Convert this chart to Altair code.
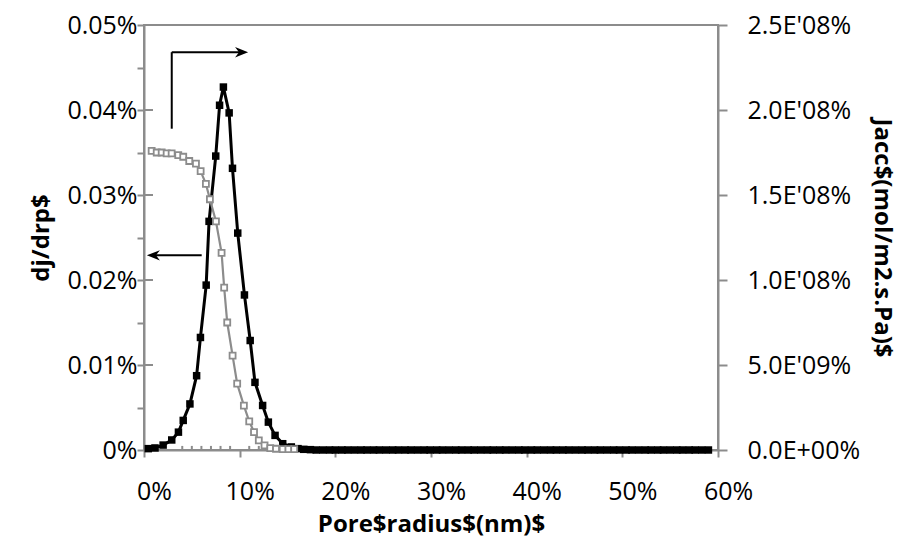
import json
import altair as alt
import pandas as pd

# ---- data ----
black_x = [0.0045, 0.0115, 0.020, 0.029, 0.036, 0.041, 0.048, 0.055, 0.059, 0.065,
           0.068, 0.075, 0.079, 0.083, 0.089, 0.0925, 0.098, 0.105, 0.111, 0.116,
           0.124, 0.130, 0.137, 0.145, 0.154, 0.161, 0.167, 0.174, 0.180, 0.187,
           0.194, 0.200, 0.207, 0.213, 0.220, 0.227, 0.233, 0.240, 0.246, 0.253,
           0.260, 0.266, 0.273, 0.279, 0.286, 0.293, 0.299, 0.306, 0.312, 0.319,
           0.326, 0.332, 0.339, 0.345, 0.352, 0.359, 0.365, 0.372, 0.378, 0.385,
           0.392, 0.398, 0.405, 0.411, 0.418, 0.425, 0.431, 0.438, 0.444, 0.451,
           0.458, 0.464, 0.471, 0.477, 0.484, 0.491, 0.497, 0.504, 0.510, 0.517,
           0.524, 0.530, 0.537, 0.543, 0.550, 0.557, 0.563, 0.570, 0.576, 0.583,
           0.590]
# Jacc in units of 1e-8
black_j = [0.008, 0.012, 0.029, 0.059, 0.105, 0.174, 0.271, 0.437, 0.662, 0.970,
           1.345, 1.729, 2.028, 2.135, 1.983, 1.657, 1.276, 0.912, 0.644, 0.398,
           0.262, 0.164, 0.086, 0.037, 0.018, 0.008, 0.004, 0.002, 0.0, 0.0,
           0.0, 0.0, 0.0, 0.0, 0.0, 0.0, 0.0, 0.0, 0.0, 0.0,
           0.0, 0.0, 0.0, 0.0, 0.0, 0.0, 0.0, 0.0, 0.0, 0.0,
           0.0, 0.0, 0.0, 0.0, 0.0, 0.0, 0.0, 0.0, 0.0, 0.0,
           0.0, 0.0, 0.0, 0.0, 0.0, 0.0, 0.0, 0.0, 0.0, 0.0,
           0.0, 0.0, 0.0, 0.0, 0.0, 0.0, 0.0, 0.0, 0.0, 0.0,
           0.0, 0.0, 0.0, 0.0, 0.0, 0.0, 0.0, 0.0, 0.0, 0.0,
           0.0]

grey_x = [0.008, 0.0133, 0.0185, 0.0237, 0.0289, 0.0358, 0.041, 0.0473, 0.0543, 0.0592,
          0.0647, 0.0689, 0.0752, 0.0811, 0.0838, 0.0870, 0.0926, 0.0974, 0.1044, 0.110,
          0.115, 0.120, 0.126, 0.132, 0.138, 0.145, 0.151, 0.157]
grey_d = [0.000352, 0.000350, 0.000350, 0.000349, 0.000349, 0.000347, 0.000345, 0.000340,
          0.000337, 0.000328, 0.000313, 0.000295, 0.000269, 0.000232, 0.000191, 0.000150,
          0.000111, 0.000078, 0.0000523, 0.0000336, 0.0000211, 0.0000114, 0.0000055,
          0.0000023, 0.0000015, 0.000001, 0.000001, 0.000001]

x_values = [0, 0.1, 0.2, 0.3, 0.4, 0.5, 0.6]
minor_x = [0.04, 0.05, 0.06, 0.07, 0.08, 0.09, 0.11, 0.12, 0.13, 0.14]
inner_y = [0.0001, 0.0002, 0.0003, 0.0004]
left_values = [0, 0.00005, 0.0001, 0.00015, 0.0002, 0.00025, 0.0003, 0.00035,
               0.0004, 0.00045, 0.0005]
left_labels = ["0%", "", "0.01%", "", "0.02%", "", "0.03%", "", "0.04%", "", "0.05%"]
right_values = [0, 0.5, 1.0, 1.5, 2.0, 2.5]
right_labels = ["0.0E+00%", "5.0E'09%", "1.0E'08%", "1.5E'08%", "2.0E'08%", "2.5E'08%"]

x_title = "Pore$radius$(nm)$"
left_title = "dj/drp$"
right_title = "Jacc$(mol/m2.s.Pa)$"

# annotation arrows (data units: x on bottom scale, y on left scale)
seg_x1 = [0.029, 0.029, 0.0603]
seg_x2 = [0.029, 0.101, 0.0110]
seg_y1 = [0.000378, 0.000468, 0.000229]
seg_y2 = [0.000468, 0.000468, 0.000229]
head_x = [0.1020, 0.0098]
head_y = [0.000468, 0.000229]
head_dir = ["right", "left"]

# ---- styling ----
AXC = "#8c8c8c"
GREY = "#8c8c8c"
FONT = "Open Sans"

black_df = pd.DataFrame({"x": black_x, "j": black_j})
grey_df = pd.DataFrame({"x": grey_x, "d": grey_d})
minor_df = pd.DataFrame({"x": minor_x, "y0": [0.0] * len(minor_x),
                         "y1": [0.0000048] * len(minor_x)})
inner_df = pd.DataFrame({"x": [0.0] * len(inner_y), "x2": [0.0094] * len(inner_y),
                         "y": inner_y})
seg_df = pd.DataFrame({"x": seg_x1, "x2": seg_x2, "y": seg_y1, "y2": seg_y2})
head_df = pd.DataFrame({"x": head_x, "y": head_y, "dir": head_dir})

x_scale = alt.Scale(domain=[0, 0.6], nice=False, zero=False)
x_axis = alt.Axis(values=x_values, format=".0%", title=x_title, grid=False,
                  tickSize=7, labelPadding=22, titlePadding=8,
                  labelOffset=10, labelFlush=False, labelOverlap=False)
left_scale = alt.Scale(domain=[0, 0.0005], nice=False)
left_axis = alt.Axis(orient="left", values=left_values, grid=False,
                     labelExpr=json.dumps(left_labels) + "[round(datum.value*20000)]",
                     title=left_title, tickSize=7, labelPadding=0, titlePadding=13,
                     labelFlush=False, labelOverlap=False)
right_scale = alt.Scale(domain=[0, 2.5], nice=False)
right_axis = alt.Axis(orient="right", values=right_values, grid=False,
                      labelExpr=json.dumps(right_labels) + "[round(datum.value*2)]",
                      title=right_title, tickSize=9, labelPadding=20, titlePadding=10,
                      labelFlush=False, labelOverlap=False)

X = alt.X("x:Q", scale=x_scale, axis=x_axis)
YL = lambda f: alt.Y(f, scale=left_scale, axis=left_axis)

black_line = alt.Chart(black_df).mark_line(color="black", strokeWidth=3).encode(
    x=X, y=alt.Y("j:Q", scale=right_scale, axis=right_axis))
black_pts = alt.Chart(black_df).mark_point(
    shape="square", filled=True, color="black", size=56, opacity=1).encode(
    x=X, y=alt.Y("j:Q", scale=right_scale, axis=right_axis))
black_layer = alt.layer(black_line, black_pts)

minor_ticks = alt.Chart(minor_df).mark_rule(color=AXC, strokeWidth=2).encode(
    x=X, y=YL("y0:Q"), y2="y1:Q")
inner_ticks = alt.Chart(inner_df).mark_rule(color=AXC, strokeWidth=2).encode(
    x=X, x2="x2:Q", y=YL("y:Q"))
segs = alt.Chart(seg_df).mark_rule(color="black", strokeWidth=2).encode(
    x=X, x2="x2:Q", y=YL("y:Q"), y2="y2:Q")
head_r = alt.Chart(head_df).transform_filter("datum.dir == 'right'").mark_point(
    shape="M1,0 L-1,-0.8 L-0.4,0 L-1,0.8 Z", filled=True, color="black", size=170,
    opacity=1).encode(x=X, y=YL("y:Q"))
head_l = alt.Chart(head_df).transform_filter("datum.dir == 'left'").mark_point(
    shape="M-1,0 L1,-0.8 L0.4,0 L1,0.8 Z", filled=True, color="black", size=170,
    opacity=1).encode(x=X, y=YL("y:Q"))
grey_line = alt.Chart(grey_df).mark_line(color=GREY, strokeWidth=2.2).encode(
    x=X, y=YL("d:Q"))
grey_pts = alt.Chart(grey_df).mark_point(
    shape="square", filled=True, fill="white", stroke=GREY, strokeWidth=1.8,
    size=36, opacity=1).encode(x=X, y=YL("d:Q"))
grey_layer = alt.layer(minor_ticks, inner_ticks, segs, head_r, head_l, grey_line, grey_pts)

chart = alt.layer(black_layer, grey_layer).resolve_scale(y="independent").properties(
    width=574, height=425,
    autosize=alt.AutoSizeParams(type="none"),
    padding={"left": 136, "top": 17, "right": 193, "bottom": 90},
).configure_view(stroke=AXC, strokeWidth=2).configure_axis(
    domainColor=AXC, domainWidth=2, tickColor=AXC, tickWidth=2,
    labelFont=FONT, labelFontSize=25, labelColor="black",
    titleFont=FONT, titleFontSize=24, titleFontWeight="bold", titleColor="black",
)

chart.save("out.html", embed_options={"renderer": "svg", "actions": False})
